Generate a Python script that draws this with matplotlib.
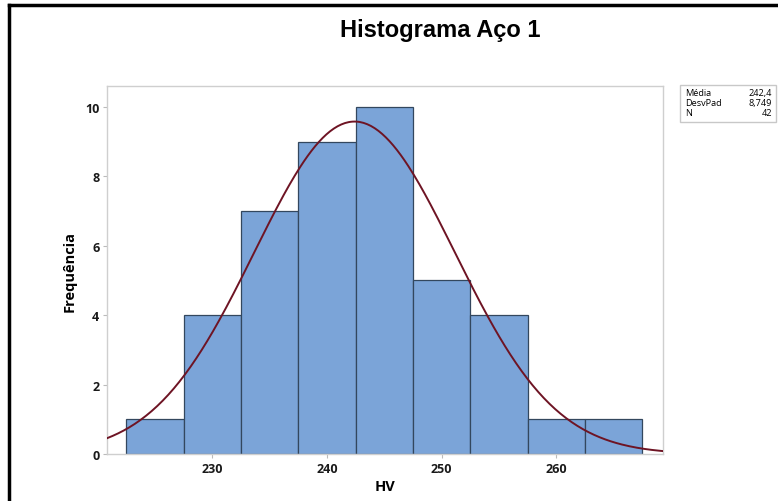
import numpy as np
import matplotlib.pyplot as plt
from matplotlib.patches import Rectangle
from matplotlib.lines import Line2D

# histogram data (HV, Aço 1)
bin_edges = [222.5, 227.5, 232.5, 237.5, 242.5, 247.5, 252.5, 257.5, 262.5, 267.5]
counts = [1, 4, 7, 9, 10, 5, 4, 1, 1]
media = 242.4
desvpad = 8.749
n = 42
x_ticks = [230, 240, 250, 260]
y_ticks = [0, 2, 4, 6, 8, 10]

fig = plt.figure(figsize=(7.78, 5.02), dpi=100)
ax = fig.add_axes([0.1375, 0.0936, 0.7145, 0.7331])

widths = np.diff(bin_edges)
ax.bar(bin_edges[:-1], counts, width=widths, align='edge',
       color='#7ba4d8', edgecolor='#33475e', linewidth=0.9, zorder=2)

# fitted normal curve from the stated mean / std dev
xlim = (220.8, 269.3)
xs = np.linspace(xlim[0], xlim[1], 300)
binw = widths[0]
ys = n * binw / (desvpad * np.sqrt(2 * np.pi)) * np.exp(-0.5 * ((xs - media) / desvpad) ** 2)
ax.plot(xs, ys, color='#6e1424', linewidth=1.4, zorder=3)

ax.set_xlim(xlim)
ax.set_ylim(0, 10.6)
ax.set_xticks(x_ticks)
ax.set_yticks(y_ticks)
for s in ax.spines.values():
    s.set_color('#cfcfcf')
    s.set_linewidth(1.0)
ax.tick_params(colors='#bbbbbb', length=3, width=0.8, labelcolor='#1a1a1a', pad=2.5)
for lab in ax.get_xticklabels() + ax.get_yticklabels():
    lab.set_family('Open Sans')
    lab.set_fontweight('bold')
    lab.set_fontsize(9)

ax.set_xlabel('HV', family='Open Sans', fontweight='bold', fontsize=10.5, labelpad=3)
ax.set_ylabel('Frequência', family='Open Sans', fontweight='bold', fontsize=10.5, labelpad=6)

fig.text(0.566, 0.94, 'Histograma Aço 1', ha='center', va='center',
         family='Liberation Sans', fontweight='bold', fontsize=17)

# stats box
box = Rectangle((680 / 778, 1 - 123 / 502), 96 / 778, 37 / 502, transform=fig.transFigure,
                fill=False, edgecolor='#c8c8c8', linewidth=1.0)
fig.add_artist(box)
labels = ['Média', 'DesvPad', 'N']
values = ['242,4', '8,749', '42']
for i, (l, v) in enumerate(zip(labels, values)):
    yy = 1 - (93.5 + 10 * i) / 502
    fig.text(685 / 778, yy, l, ha='left', va='center', family='Open Sans', fontsize=6.6)
    fig.text(772 / 778, yy, v, ha='right', va='center', family='Open Sans', fontsize=6.6)

# outer frame (top and left edges only visible)
fig.add_artist(Line2D([9 / 778, 1.0], [1 - 6 / 502, 1 - 6 / 502], transform=fig.transFigure,
                      color='black', linewidth=2.5))
fig.add_artist(Line2D([9 / 778, 9 / 778], [1 - 6 / 502, 0.0], transform=fig.transFigure,
                      color='black', linewidth=2.5))

plt.savefig('out.png', dpi=100)
